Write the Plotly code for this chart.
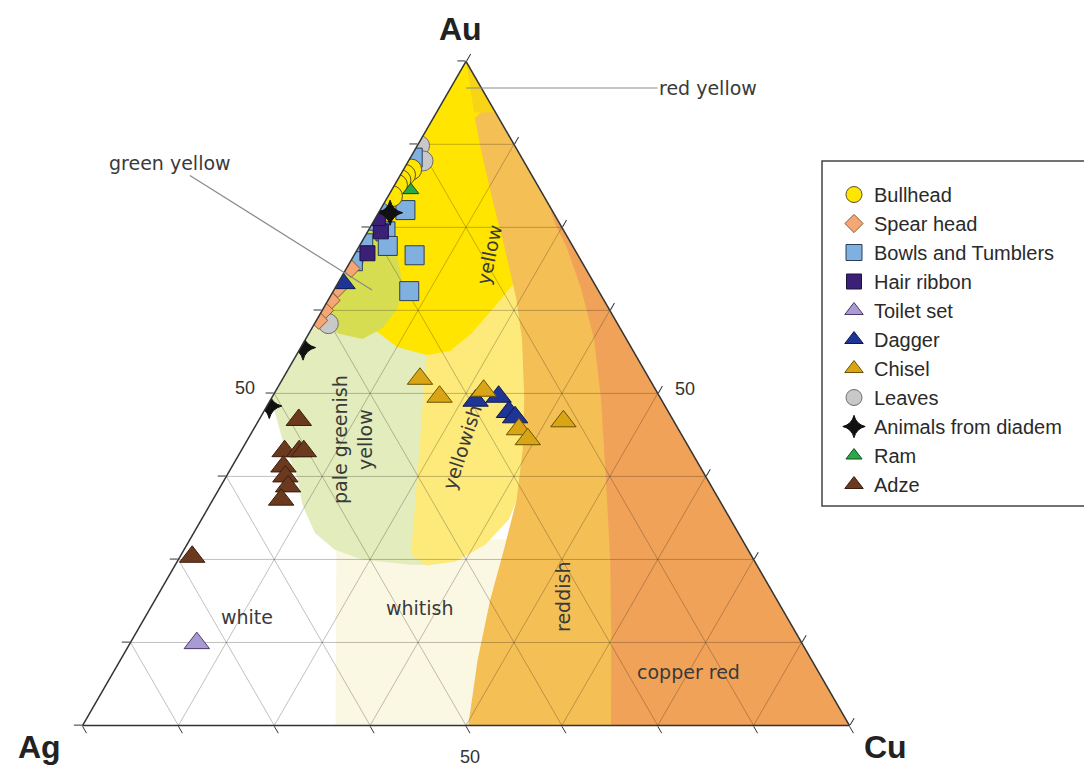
import plotly.graph_objects as go

# page is shown with the browser's default 8px body margin
OX, OY = 8, 8
FW, FH = 1084, 759


def px(x):
    return (x - OX) / FW


def py(y):
    return 1 - (y - OY) / FH


# ---------------- data (Au, Cu in wt%; Ag = 100 - Au - Cu) ----------------
bull_au = [83.7, 82.9, 82.1, 81.4, 79.7]
bull_cu = [1.0, 0.6, 0.4, 0.3, 0.5]
spear_au = [68.8, 65.8, 64.0, 62.5, 61.0]
spear_cu = [0.6, 0.4, 0.4, 0.3, 0.3]
bowls_au = [85.5, 77.9, 76.0, 72.6, 74.4, 72.2, 77.6, 70.8, 65.4, 69.9]
bowls_cu = [0.3, 0.3, 0.3, 0.3, 2.3, 3.7, 3.3, 7.9, 9.9, 0.3]
hair_au = [74.4, 71.1, 76.4]
hair_cu = [1.7, 1.6, 0.3]
toilet_au = [12.4]
toilet_cu = [8.7]
dagger_au = [66.6, 48.9, 49.5, 47.2, 46.4]
dagger_cu = [0.6, 26.8, 29.5, 32.0, 33.2]
chisel_au = [52.2, 49.5, 50.4, 44.6, 43.1, 45.8]
chisel_cu = [17.9, 21.8, 27.1, 34.6, 36.5, 39.8]
leaves_au = [87.3, 85.0, 70.0, 60.5]
leaves_cu = [0.3, 1.9, 0.3, 1.8]
animals_au = [56.9, 48.1, 77.2]
animals_cu = [0.3, 0.3, 1.5]
ram_au = [80.6]
ram_cu = [2.5]
adze_au = [46.0, 41.3, 41.3, 41.3, 39.0, 37.5, 36.0, 34.0, 25.4]
adze_cu = [5.2, 5.7, 7.6, 8.2, 6.7, 7.7, 8.8, 8.9, 1.6]

# colour-field boundaries (Au, Cu), painted in this order
whitish_au = [0, 28.0, 28.0, 0]
whitish_cu = [33.0, 19.1, 50.0, 72.0]
palegreen_au = [68.8, 49.2, 43.1, 37.1, 33.3, 29.0, 26.5, 25.0, 24.2, 24.2, 64.3, 68.8]
palegreen_cu = [0, 0, 4.5, 9.5, 12.0, 15.8, 19.6, 23.9, 30.7, 33.3, 13.4, 7.3]
yellowish_au = [71.9, 25.7, 24.1, 24.7, 27.2, 31.0, 34.8, 41.6, 64.3, 71.9]
yellowish_cu = [10.0, 30.0, 32.8, 36.3, 38.9, 40.1, 39.5, 37.0, 28.0, 24.0]
yellow_au = [100, 67.3, 64.3, 59.8, 57.0, 55.8, 56.4, 59.0, 64.3, 71.9, 79.4, 87.0, 93.0]
yellow_cu = [0, 0, 3.1, 7.9, 12.5, 17.0, 19.7, 21.2, 22.5, 24.0, 19.0, 12.0, 7.0]
olive_au = [75.2, 73.4, 70.4, 66.6, 62.8, 59.8, 58.2, 59.0, 61.3]
olive_cu = [0, 2.5, 5.9, 8.4, 9.7, 9.2, 7.4, 3.8, 0]
reddish_au = [93.5, 91.5, 87.0, 79.4, 71.9, 64.3, 58.2, 49.2, 41.6, 34.0, 26.5, 18.9, 9.8, 0, 0]
reddish_cu = [6.5, 5.4, 8.4, 13.7, 19.1, 24.4, 28.2, 33.0, 36.6, 39.6, 41.7, 43.7, 46.6, 50.3, 100]
copper_au = [0, 12.9, 25.0, 37.1, 49.2, 58.2, 65.8, 71.9, 75.6, 78.5, 0]
copper_cu = [68.9, 62.5, 56.3, 49.7, 43.0, 37.6, 32.1, 27.2, 23.8, 21.5, 100]
redyellow_au = [100, 92.3, 92.3, 96.1, 98.3]
redyellow_cu = [0, 7.7, 4.9, 2.5, 1.1]

grid_levels = [12.5, 25, 37.5, 50, 62.5, 75, 87.5]
tick_vals = [0, 12.5, 25, 37.5, 50, 62.5, 75, 87.5, 100]


def ag(au, cu):
    return [100 - a - c for a, c in zip(au, cu)]


fig = go.Figure()

fields = [
    (whitish_au, whitish_cu, "rgb(250,247,226)"),
    (palegreen_au, palegreen_cu, "rgb(226,236,188)"),
    (yellowish_au, yellowish_cu, "rgb(253,234,122)"),
    (yellow_au, yellow_cu, "rgb(255,229,0)"),
    (olive_au, olive_cu, "rgb(214,221,80)"),
    (reddish_au, reddish_cu, "rgb(244,191,84)"),
    (copper_au, copper_cu, "rgb(240,162,88)"),
    (redyellow_au, redyellow_cu, "rgb(247,212,22)"),
]
for au, cu, col in fields:
    fig.add_trace(go.Scatterternary(
        a=au, b=ag(au, cu), c=cu, mode="lines", fill="toself",
        fillcolor=col, line=dict(width=0, color=col),
        hoverinfo="skip", showlegend=False))

# grid lines drawn over the colour fields
ga, gb, gc = [], [], []
for v in grid_levels:
    ga += [v, v, None]; gb += [100 - v, 0, None]; gc += [0, 100 - v, None]
    ga += [100 - v, 0, None]; gb += [v, v, None]; gc += [0, 100 - v, None]
    ga += [100 - v, 0, None]; gb += [0, 100 - v, None]; gc += [v, v, None]
fig.add_trace(go.Scatterternary(
    a=ga, b=gb, c=gc, mode="lines",
    line=dict(color="rgba(40,30,20,0.28)", width=1),
    hoverinfo="skip", showlegend=False, connectgaps=False))

series = [
    ("Leaves", leaves_au, leaves_cu, "circle", "#c8c8c8", "#6e6e6e", 20, 8),
    ("Bowls and Tumblers", bowls_au, bowls_cu, "square", "#7fb0e0", "#2b3f5c", 19, 3),
    ("Hair ribbon", hair_au, hair_cu, "square", "#3a2177", "#1c1040", 15, 4),
    ("Bullhead", bull_au, bull_cu, "circle", "#ffe600", "#5a5020", 21, 1),
    ("Spear head", spear_au, spear_cu, "diamond", "#f4a774", "#8a5a3a", 14, 2),
    ("Dagger", dagger_au, dagger_cu, "triangle-up", "#1f3596", "#0c1a50", 22, 6),
    ("Chisel", chisel_au, chisel_cu, "triangle-up", "#d9a514", "#6b5300", 22, 7),
    ("Adze", adze_au, adze_cu, "triangle-up", "#6b3a1e", "#3a1e0e", 22, 11),
    ("Toilet set", toilet_au, toilet_cu, "triangle-up", "#a89bd2", "#4a3a6a", 22, 5),
    ("Animals from diadem", animals_au, animals_cu, "star-diamond", "#111111", "#111111", 18, 9),
    ("Ram", ram_au, ram_cu, "triangle-up", "#2aa84a", "#105020", 14, 10),
]
for name, au, cu, sym, fc, lc, sz, rank in series:
    fig.add_trace(go.Scatterternary(
        a=au, b=ag(au, cu), c=cu, mode="markers", name=name,
        legendrank=rank,
        marker=dict(symbol=sym, size=sz, color=fc, line=dict(color=lc, width=1))))

axis_common = dict(
    tickmode="array", tickvals=tick_vals, showticklabels=False,
    ticks="outside", ticklen=8, tickwidth=1.3, tickcolor="#333",
    linecolor="#333", linewidth=1.5, showgrid=False,
    title=dict(text=""), min=0)

fig.update_layout(
    width=FW, height=FH,
    paper_bgcolor="white",
    margin=dict(l=0, r=0, t=0, b=0),
    ternary=dict(
        sum=100,
        domain=dict(x=[px(82.5), px(849.5)], y=[py(725.5), py(61.3)]),
        bgcolor="white",
        aaxis=axis_common, baxis=axis_common, caxis=axis_common),
    showlegend=True,
    legend=dict(x=px(834), y=py(175), xanchor="left", yanchor="top",
                bgcolor="rgba(0,0,0,0)", borderwidth=0,
                font=dict(family="Arial", size=20, color="#2a2a2a"),
                itemsizing="trace", traceorder="normal"),
)

# legend frame (runs off the right edge as in the original)
fig.add_shape(type="rect", xref="paper", yref="paper",
              x0=px(822), x1=1.05, y0=py(506), y1=py(161),
              line=dict(color="#444", width=1.5), fillcolor="rgba(0,0,0,0)")

lab_font = dict(family="DejaVu Sans", size=19, color="#3a3a3a")


def ann(text, x, y, angle=0, font=lab_font):
    fig.add_annotation(text=text, x=px(x), y=py(y), xref="paper", yref="paper",
                       showarrow=False, textangle=angle, font=font,
                       xanchor="center", yanchor="middle")


# vertex titles
for t, x, y in [("Au", 460, 29), ("Ag", 39, 747), ("Cu", 885, 747)]:
    ann("<b>%s</b>" % t, x, y, font=dict(family="Arial", size=32, color="#222"))

# the single labelled tick value on each side
tick_font = dict(family="Arial", size=18, color="#333")
ann("50", 245, 388, font=tick_font)
ann("50", 470, 757, font=tick_font)
ann("50", 685, 389, font=tick_font)

ann("yellow", 489, 255, -78)
ann("pale greenish<br>yellow", 352, 440, -90)
ann("yellowish", 462, 447, -72)
ann("reddish", 563, 597, -90)
ann("whitish", 420, 608)
ann("white", 247, 617)
ann("copper red", 688, 672)

# labels with leader lines
fig.add_annotation(text="red yellow", x=px(466), y=py(88), xref="paper", yref="paper",
                   ax=242, ay=0, showarrow=True, arrowhead=0, arrowwidth=1.2,
                   arrowcolor="#8a8a8a", font=lab_font)
fig.add_annotation(text="green yellow", x=px(372), y=py(290), xref="paper", yref="paper",
                   ax=-202, ay=-127, showarrow=True, arrowhead=0, arrowwidth=1.2,
                   arrowcolor="#8a8a8a", font=lab_font)

fig.write_html("out.html")
